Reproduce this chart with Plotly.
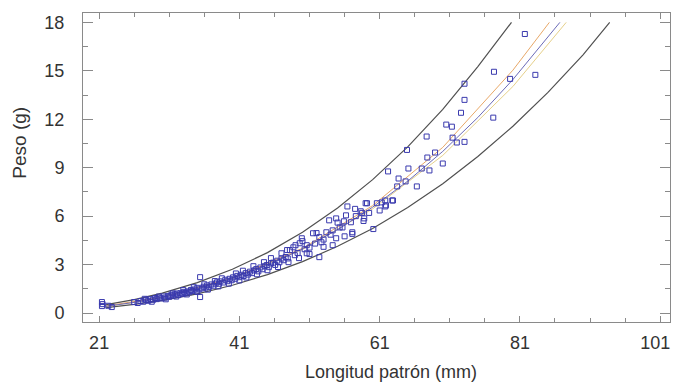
import plotly.graph_objects as go

# ---- data ----
length_mm = [21.4, 21.5, 21.4, 22.3, 22.8,
    26.0, 26.5, 26.9, 27.3, 27.7, 28.0, 28.3, 28.7, 29.0, 29.2, 29.6, 29.9, 30.2, 30.4, 30.8, 31.0,
    31.3, 31.5, 31.8, 32.1, 32.3, 32.6, 32.9, 33.1, 33.3, 33.6, 33.9, 34.1, 34.3, 34.6, 34.9, 35.0,
    35.3, 35.4, 35.4, 35.7, 35.9, 36.2, 36.4, 36.7, 37.0, 37.3, 37.6, 37.8, 38.1, 38.3, 38.7, 39.0,
    39.3, 39.6, 39.9, 40.1, 40.4, 40.7, 41.0, 41.3, 41.6, 41.9, 42.2, 42.5, 42.8, 43.1, 43.4, 43.7,
    44.0, 44.3, 44.6, 44.9, 45.2, 45.5, 45.8, 46.1, 46.4, 46.7, 47.0, 47.3, 47.6, 47.8, 47.9, 48.2,
    48.7, 48.9, 49.3, 49.6, 49.9, 50.3, 50.6, 50.6, 51.0, 51.5, 51.8, 52.4, 52.4, 52.7, 53.0, 53.4,
    53.8, 54.0, 54.3, 54.3, 54.8, 54.8, 55.3, 55.7, 55.9, 56.2, 56.4, 56.9, 57.1, 57.6, 58.3, 58.8,
    59.2, 59.5, 60.1, 60.6, 61.0, 61.8, 61.8, 62.2, 62.8, 63.5, 63.7, 64.7, 64.9, 65.1, 66.3, 67.0,
    67.7, 67.8, 68.1, 68.9, 70.0, 70.5, 71.3, 71.4, 72.0, 72.6, 73.1, 73.1, 73.1, 77.2, 77.3, 79.6,
    81.7, 83.2, 61.9, 62.9, 59.0, 61.3, 58.5, 58.7, 57.1,
    27.5, 28.5, 29.5, 30.5, 31.5, 32.0, 33.0, 33.5, 34.5, 35.0, 36.0, 36.5, 37.5, 38.0, 38.5, 39.5,
    40.5, 41.0, 41.5, 42.0, 43.0, 43.5, 44.5, 45.0, 45.5, 46.5, 47.0, 48.0, 49.0, 49.5, 50.0, 51.0,
    52.0, 53.0, 55.0, 56.0, 57.5]
weight_g = [0.68, 0.55, 0.43, 0.45, 0.37,
    0.68, 0.62, 0.74, 0.70, 0.80, 0.76, 0.86, 0.82, 0.93, 0.86, 0.95, 0.90, 1.03, 0.95, 1.06, 1.00,
    1.13, 1.07, 1.16, 1.21, 1.11, 1.23, 1.17, 1.31, 1.24, 1.34, 1.29, 1.43, 1.36, 1.46, 1.39, 1.56,
    1.47, 2.22, 0.99, 1.53, 1.63, 1.57, 1.71, 1.62, 1.77, 1.69, 1.82, 1.90, 1.81, 1.96, 1.89, 2.06,
    1.97, 2.12, 2.03, 2.21, 2.12, 2.30, 2.22, 2.37, 2.29, 2.47, 2.38, 2.56, 2.47, 2.64, 2.72, 2.58,
    2.82, 2.71, 2.90, 2.97, 2.84, 3.07, 3.12, 2.98, 3.24, 3.14, 3.37, 3.27, 3.47, 3.90, 3.38, 3.90,
    4.07, 3.58, 3.72, 4.32, 4.63, 3.95, 4.20, 3.70, 4.05, 4.94, 4.30, 4.70, 3.46, 4.38, 4.55, 5.00,
    5.74, 4.85, 5.12, 4.20, 5.86, 4.63, 5.30, 5.30, 5.68, 6.05, 6.60, 5.62, 5.00, 6.00, 6.30, 5.86,
    6.80, 6.20, 5.20, 6.80, 6.35, 6.97, 6.60, 8.77, 6.97, 7.84, 8.33, 8.15, 10.10, 8.95, 7.84, 8.95,
    10.93, 9.63, 8.83, 9.94, 9.26, 11.67, 11.54, 10.86, 10.56, 12.40, 14.20, 13.20, 10.60, 12.10, 14.94, 14.50,
    17.28, 14.75, 6.67, 6.97, 6.80, 6.85, 6.20, 5.70, 4.90,
    0.88, 0.70, 1.02, 0.85, 1.22, 1.02, 1.42, 1.15, 1.60, 1.30, 1.78, 1.45, 1.98, 1.65, 2.15, 1.82,
    2.45, 2.02, 2.62, 2.20, 2.90, 2.40, 3.15, 2.65, 3.40, 2.85, 3.70, 3.15, 4.20, 3.40, 4.45, 3.65,
    4.95, 4.10, 5.60, 4.75, 6.45]

curve_x = [22, 26, 30, 35, 40, 45, 50, 55, 60, 65, 70, 75, 80, 85, 86.7]
fit_y = [0.415, 0.657, 0.974, 1.489, 2.149, 2.971, 3.970, 5.160, 6.554, 8.167, 10.01, 12.11, 14.46, 17.08, 18.0]

upper_x = [22, 26, 30, 35, 40, 45, 50, 55, 60, 65, 70, 75, 79.8]
upper_y = [0.52, 0.83, 1.23, 1.88, 2.71, 3.74, 5.00, 6.50, 8.26, 10.29, 12.61, 15.26, 18.0]

lower_x = [22, 26, 30, 35, 40, 45, 50, 55, 60, 65, 70, 75, 80, 85, 90, 93.8]
lower_y = [0.33, 0.53, 0.78, 1.19, 1.72, 2.38, 3.18, 4.13, 5.24, 6.53, 8.01, 9.69, 11.57, 13.66, 15.99, 18.0]

conf_hi_x = [22, 30, 40, 50, 60, 70, 80, 85.2]
conf_hi_y = [0.44, 0.99, 2.17, 4.01, 6.65, 10.26, 15.04, 18.0]
conf_lo_x = [22, 30, 40, 50, 60, 70, 80, 87.6]
conf_lo_y = [0.39, 0.96, 2.13, 3.93, 6.45, 9.76, 14.03, 18.0]

x_ticks = [21, 41, 61, 81, 101]
x_tick_labels = ["21", "41", "61", "81", "101\u2007"]
y_ticks = [0, 3, 6, 9, 12, 15, 18]

fig = go.Figure()
fig.add_trace(go.Scatter(x=upper_x, y=upper_y, mode="lines",
                         line=dict(color="#505050", width=1.2), showlegend=False))
fig.add_trace(go.Scatter(x=lower_x, y=lower_y, mode="lines",
                         line=dict(color="#505050", width=1.2), showlegend=False))
fig.add_trace(go.Scatter(x=conf_lo_x, y=conf_lo_y, mode="lines",
                         line=dict(color="#e6d08a", width=1), showlegend=False))
fig.add_trace(go.Scatter(x=conf_hi_x, y=conf_hi_y, mode="lines",
                         line=dict(color="#e8a868", width=1), showlegend=False))
fig.add_trace(go.Scatter(x=curve_x, y=fit_y, mode="lines",
                         line=dict(color="#6b6bb8", width=1), showlegend=False))
fig.add_trace(go.Scatter(x=length_mm, y=weight_g, mode="markers",
                         marker=dict(symbol="square-open", size=5,
                                     color="#3a3aae", line=dict(width=1)),
                         showlegend=False))

axis_common = dict(showline=True, linecolor="#8a8a8a", linewidth=1, mirror="allticks",
                   showgrid=False, zeroline=False, ticks="inside", tickcolor="#8a8a8a",
                   ticklabeloverflow="allow",
                   tickfont=dict(family="Liberation Sans, Arial", size=18, color="#333333"))

fig.update_xaxes(range=[18.7, 102.4], tickvals=x_ticks, ticktext=x_tick_labels,
                 ticklen=6, ticklabelstandoff=4,
                 minor=dict(ticks="inside", tick0=21, dtick=5, ticklen=4, tickcolor="#8a8a8a"),
                 **axis_common)
fig.update_yaxes(range=[-0.556, 18.58], tickvals=y_ticks, ticklen=10, ticklabelstandoff=14,
                 minor=dict(ticks="inside", tick0=0, dtick=1.5, ticklen=5, tickcolor="#8a8a8a"),
                 **axis_common)

fig.add_annotation(text="Longitud patrón (mm)", xref="paper", yref="paper",
                   x=(396 - 83) / 597, y=-(372 - 322) / 310, showarrow=False,
                   xanchor="center", yanchor="middle",
                   font=dict(family="Liberation Sans, Arial", size=18, color="#333333"))
fig.add_annotation(text="Peso (g)", xref="paper", yref="paper",
                   x=-(83 - 18) / 597, y=(322 - 142) / 310, showarrow=False, textangle=-90,
                   xanchor="center", yanchor="middle",
                   font=dict(family="Liberation Sans, Arial", size=19, color="#333333"))

# page body has an 8px margin, so the figure is 8px smaller and shifted
fig.update_layout(width=676, height=378, margin=dict(l=75, r=4, t=4, b=64),
                  plot_bgcolor="white", paper_bgcolor="white")

fig.write_html("out.html")
